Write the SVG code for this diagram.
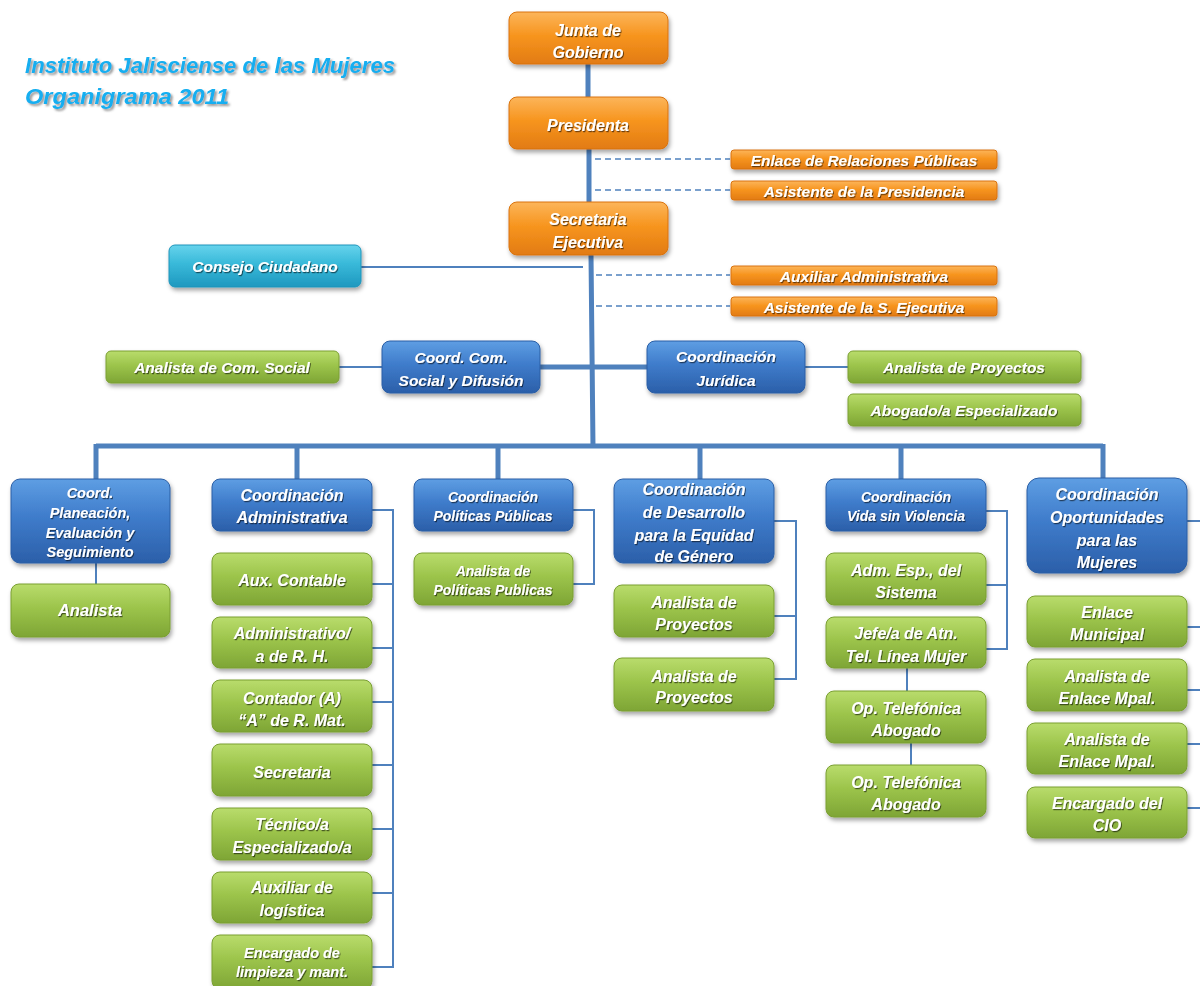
<svg xmlns="http://www.w3.org/2000/svg" width="1200" height="986" viewBox="0 0 1200 986">
<defs>
<linearGradient id="gO" x1="0" y1="0" x2="0" y2="1"><stop offset="0" stop-color="#fcb55a"/><stop offset="0.45" stop-color="#f7951f"/><stop offset="1" stop-color="#e27b12"/></linearGradient>
<linearGradient id="gB" x1="0" y1="0" x2="0" y2="1"><stop offset="0" stop-color="#5e9ee3"/><stop offset="0.45" stop-color="#3f7ccb"/><stop offset="1" stop-color="#2b5fa9"/></linearGradient>
<linearGradient id="gG" x1="0" y1="0" x2="0" y2="1"><stop offset="0" stop-color="#b9dc6c"/><stop offset="0.45" stop-color="#9cc44b"/><stop offset="1" stop-color="#7ea535"/></linearGradient>
<linearGradient id="gC" x1="0" y1="0" x2="0" y2="1"><stop offset="0" stop-color="#66d3ec"/><stop offset="0.45" stop-color="#38b9d9"/><stop offset="1" stop-color="#1f98bf"/></linearGradient>
<filter id="sh" x="-10%" y="-20%" width="125%" height="160%"><feDropShadow dx="1.5" dy="3" stdDeviation="2" flood-color="#000" flood-opacity="0.35"/></filter>
<filter id="ts" x="-5%" y="-20%" width="115%" height="160%"><feDropShadow dx="1" dy="1.2" stdDeviation="0.7" flood-color="#000" flood-opacity="0.55"/></filter>
<filter id="tt" x="-5%" y="-20%" width="115%" height="160%"><feDropShadow dx="2" dy="2" stdDeviation="1.2" flood-color="#555" flood-opacity="0.6"/></filter>
</defs>
<style>
.o{fill:url(#gO);stroke:#d9730f;stroke-width:1;filter:url(#sh)}
.b{fill:url(#gB);stroke:#2a5ea5;stroke-width:1;filter:url(#sh)}
.g{fill:url(#gG);stroke:#7a9f33;stroke-width:1;filter:url(#sh)}
.c{fill:url(#gC);stroke:#1f95bb;stroke-width:1;filter:url(#sh)}
text{font-family:"Liberation Sans",Arial,sans-serif;font-weight:bold;font-style:italic;fill:#fff;text-anchor:middle;filter:url(#ts)}
.f17{font-size:16.5px}.f16{font-size:16px}.f155{font-size:15.5px}.f145{font-size:14.5px}.f14{font-size:14px}
.title{font-size:22px;fill:#12aef0;text-anchor:start;filter:url(#tt)}
.thick{stroke:#4f81bd;stroke-width:5;fill:none}
.thin{stroke:#4f81bd;stroke-width:2;fill:none}
.dash{stroke:#4f81bd;stroke-width:1.6;stroke-dasharray:6 4;fill:none}
</style>
<rect width="1200" height="986" fill="#fff"/>
<g id="title">
<text class="title" x="25" y="73" textLength="370" lengthAdjust="spacingAndGlyphs">Instituto Jalisciense de las Mujeres</text>
<text class="title" x="25" y="104" textLength="204" lengthAdjust="spacingAndGlyphs">Organigrama 2011</text>
</g>
<g id="connectors">
<path class="thick" d="M588 64V97M589 149V202M591 255L593 448M540 367H592M647 367H594M96 446H1103M96 444V479M297 444V479M498 444V479M700 444V479M901 444V479M1103 444V479"/>
<path class="dash" d="M595 159H730M595 190H730M596 275H730M596 306H730"/>
<path class="thin" d="M361 267H583M339 367H382M805 367H848M96 563V584"/>
<path class="thin" d="M372 510H393V967H372M372 584H393M372 648H393M372 702H393M372 765H393M372 829H393M372 893H393"/>
<path class="thin" d="M573 510H594V584H573"/>
<path class="thin" d="M774 521H796V679H774M774 616H796"/>
<path class="thin" d="M986 511H1007V649H986M986 585H1007M907 668V691M911 743V765"/>
<path class="thin" d="M1187 521H1200M1187 627H1200M1187 690H1200M1187 744H1200M1187 808H1200"/>
</g>
<g id="junta"><rect class="o" x="509" y="12" width="159" height="52" rx="8"/><text class="f16" x="588"><tspan x="588" y="35.5">Junta de</tspan><tspan x="588" y="57.5">Gobierno</tspan></text></g>
<g id="presidenta"><rect class="o" x="509" y="97" width="159" height="52" rx="8"/><text class="f16" x="588" y="131">Presidenta</text></g>
<g id="secretaria"><rect class="o" x="509" y="202" width="159" height="53" rx="8"/><text class="f16" x="588"><tspan x="588" y="224.5">Secretaria</tspan><tspan x="588" y="247.5">Ejecutiva</tspan></text></g>
<g id="enlace-rp"><rect class="o" x="731" y="150" width="266" height="19" rx="3"/><text class="f155" x="864" y="165.5">Enlace de Relaciones Públicas</text></g>
<g id="asist-pres"><rect class="o" x="731" y="181" width="266" height="19" rx="3"/><text class="f155" x="864" y="196.5">Asistente de la Presidencia</text></g>
<g id="aux-adm"><rect class="o" x="731" y="266" width="266" height="19" rx="3"/><text class="f155" x="864" y="281.5">Auxiliar Administrativa</text></g>
<g id="asist-se"><rect class="o" x="731" y="297" width="266" height="19" rx="3"/><text class="f155" x="864" y="312.5">Asistente de la S. Ejecutiva</text></g>
<g id="consejo"><rect class="c" x="169" y="245" width="192" height="42" rx="6"/><text class="f155" x="265" y="271.5">Consejo Ciudadano</text></g>
<g id="analista-cs"><rect class="g" x="106" y="351" width="233" height="32" rx="5"/><text class="f155" x="222" y="372.5">Analista de Com. Social</text></g>
<g id="coord-cs"><rect class="b" x="382" y="341" width="158" height="52" rx="8"/><text class="f155" x="461"><tspan x="461" y="363">Coord. Com.</tspan><tspan x="461" y="385.5">Social y Difusión</tspan></text></g>
<g id="coord-jur"><rect class="b" x="647" y="341" width="158" height="52" rx="8"/><text class="f155" x="726"><tspan x="726" y="362">Coordinación</tspan><tspan x="726" y="385.5">Jurídica</tspan></text></g>
<g id="analista-py"><rect class="g" x="848" y="351" width="233" height="32" rx="5"/><text class="f155" x="964" y="372.5">Analista de Proyectos</text></g>
<g id="abogado"><rect class="g" x="848" y="394" width="233" height="32" rx="5"/><text class="f155" x="964" y="415.5">Abogado/a Especializado</text></g>
<g id="coord-plan"><rect class="b" x="11" y="479" width="159" height="84" rx="9"/><text class="f145" x="90"><tspan x="90" y="498">Coord.</tspan><tspan x="90" y="518">Planeación,</tspan><tspan x="90" y="538">Evaluación y</tspan><tspan x="90" y="557">Seguimiento</tspan></text></g>
<g id="analista-plan"><rect class="g" x="11" y="584" width="159" height="53" rx="8"/><text class="f17" x="90" y="616">Analista</text></g>
<g id="coord-adm"><rect class="b" x="212" y="479" width="160" height="52" rx="8"/><text class="f16" x="292"><tspan x="292" y="500.5">Coordinación</tspan><tspan x="292" y="522.5">Administrativa</tspan></text></g>
<g id="aux-contable"><rect class="g" x="212" y="553" width="160" height="52" rx="8"/><text class="f16" x="292" y="585.5">Aux. Contable</text></g>
<g id="administrativo"><rect class="g" x="212" y="617" width="160" height="51" rx="8"/><text class="f16" x="292"><tspan x="292" y="638.5">Administrativo/</tspan><tspan x="292" y="661.5">a de R. H.</tspan></text></g>
<g id="contador"><rect class="g" x="212" y="680" width="160" height="52" rx="8"/><text class="f16" x="292"><tspan x="292" y="703.5">Contador (A)</tspan><tspan x="292" y="725.5">“A” de R. Mat.</tspan></text></g>
<g id="secretaria-adm"><rect class="g" x="212" y="744" width="160" height="52" rx="8"/><text class="f16" x="292" y="777.5">Secretaria</text></g>
<g id="tecnico"><rect class="g" x="212" y="808" width="160" height="52" rx="8"/><text class="f16" x="292"><tspan x="292" y="829.5">Técnico/a</tspan><tspan x="292" y="852.5">Especializado/a</tspan></text></g>
<g id="aux-logistica"><rect class="g" x="212" y="872" width="160" height="51" rx="8"/><text class="f16" x="292"><tspan x="292" y="892.5">Auxiliar de</tspan><tspan x="292" y="915.5">logística</tspan></text></g>
<g id="encargado-limp"><rect class="g" x="212" y="935" width="160" height="54" rx="8"/><text class="f145" x="292"><tspan x="292" y="958">Encargado de</tspan><tspan x="292" y="977">limpieza y mant.</tspan></text></g>
<g id="coord-pp"><rect class="b" x="414" y="479" width="159" height="52" rx="8"/><text class="f14" x="493"><tspan x="493" y="501.5">Coordinación</tspan><tspan x="493" y="521">Políticas Públicas</tspan></text></g>
<g id="analista-pp"><rect class="g" x="414" y="553" width="159" height="52" rx="8"/><text class="f14" x="493"><tspan x="493" y="575.5">Analista de</tspan><tspan x="493" y="595">Políticas Publicas</tspan></text></g>
<g id="coord-deg"><rect class="b" x="614" y="479" width="160" height="84" rx="9"/><text class="f16" x="694"><tspan x="694" y="494.5">Coordinación</tspan><tspan x="694" y="517.5">de Desarrollo</tspan><tspan x="694" y="540.5">para la Equidad</tspan><tspan x="694" y="561.5">de Género</tspan></text></g>
<g id="analista-deg1"><rect class="g" x="614" y="585" width="160" height="52" rx="8"/><text class="f16" x="694"><tspan x="694" y="607.5">Analista de</tspan><tspan x="694" y="629.5">Proyectos</tspan></text></g>
<g id="analista-deg2"><rect class="g" x="614" y="658" width="160" height="53" rx="8"/><text class="f16" x="694"><tspan x="694" y="681.5">Analista de</tspan><tspan x="694" y="702.5">Proyectos</tspan></text></g>
<g id="coord-vsv"><rect class="b" x="826" y="479" width="160" height="52" rx="8"/><text class="f14" x="906"><tspan x="906" y="501.5">Coordinación</tspan><tspan x="906" y="521">Vida sin Violencia</tspan></text></g>
<g id="adm-esp"><rect class="g" x="826" y="553" width="160" height="52" rx="8"/><text class="f16" x="906"><tspan x="906" y="575.5">Adm. Esp., del</tspan><tspan x="906" y="597.5">Sistema</tspan></text></g>
<g id="jefe-atn"><rect class="g" x="826" y="617" width="160" height="51" rx="8"/><text class="f16" x="906"><tspan x="906" y="638.5">Jefe/a de Atn.</tspan><tspan x="906" y="661.5">Tel. Línea Mujer</tspan></text></g>
<g id="op-tel1"><rect class="g" x="826" y="691" width="160" height="52" rx="8"/><text class="f16" x="906"><tspan x="906" y="713.5">Op. Telefónica</tspan><tspan x="906" y="735.5">Abogado</tspan></text></g>
<g id="op-tel2"><rect class="g" x="826" y="765" width="160" height="52" rx="8"/><text class="f16" x="906"><tspan x="906" y="787.5">Op. Telefónica</tspan><tspan x="906" y="809.5">Abogado</tspan></text></g>
<g id="coord-opm"><rect class="b" x="1027" y="478" width="160" height="95" rx="12"/><text class="f16" x="1107"><tspan x="1107" y="499.5">Coordinación</tspan><tspan x="1107" y="522.5">Oportunidades</tspan><tspan x="1107" y="545.5">para las</tspan><tspan x="1107" y="567.5">Mujeres</tspan></text></g>
<g id="enlace-mun"><rect class="g" x="1027" y="596" width="160" height="51" rx="8"/><text class="f16" x="1107"><tspan x="1107" y="617.5">Enlace</tspan><tspan x="1107" y="639.5">Municipal</tspan></text></g>
<g id="analista-em1"><rect class="g" x="1027" y="659" width="160" height="52" rx="8"/><text class="f16" x="1107"><tspan x="1107" y="681.5">Analista de</tspan><tspan x="1107" y="703.5">Enlace Mpal.</tspan></text></g>
<g id="analista-em2"><rect class="g" x="1027" y="723" width="160" height="51" rx="8"/><text class="f16" x="1107"><tspan x="1107" y="744.5">Analista de</tspan><tspan x="1107" y="766.5">Enlace Mpal.</tspan></text></g>
<g id="encargado-cio"><rect class="g" x="1027" y="787" width="160" height="51" rx="8"/><text class="f16" x="1107"><tspan x="1107" y="808.5">Encargado del</tspan><tspan x="1107" y="830.5">CIO</tspan></text></g>
</svg>
